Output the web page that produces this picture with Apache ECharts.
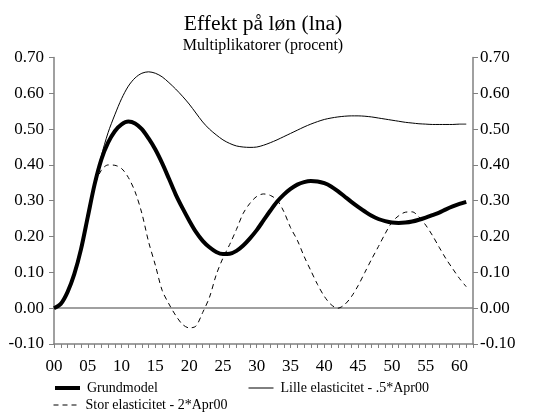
<!DOCTYPE html>
<html>
<head>
<meta charset="utf-8">
<script src="https://cdn.jsdelivr.net/npm/echarts@6/dist/echarts.min.js"></script>
<style>
html,body{margin:0;padding:0;background:#fff;}
#c{width:546px;height:415px;}
</style>
</head>
<body>
<div id="c"></div>
<script>
const years = [];
for (let i = 0; i <= 61; i++) years.push(i);

const grundmodel = [0,0.012,0.045,0.095,0.165,0.255,0.345,0.415,0.462,0.494,0.513,0.521,0.516,0.5,0.474,0.443,0.405,0.362,0.318,0.28,0.245,0.213,0.188,0.17,0.157,0.151,0.152,0.16,0.175,0.195,0.218,0.245,0.272,0.297,0.317,0.333,0.345,0.352,0.355,0.354,0.349,0.34,0.327,0.312,0.297,0.283,0.27,0.258,0.249,0.243,0.239,0.238,0.239,0.242,0.247,0.253,0.26,0.267,0.276,0.284,0.291,0.297];

const lille = [0,0.012,0.045,0.095,0.165,0.255,0.345,0.425,0.49,0.54,0.585,0.62,0.643,0.656,0.66,0.656,0.646,0.63,0.612,0.592,0.57,0.545,0.52,0.5,0.484,0.47,0.46,0.453,0.45,0.449,0.45,0.455,0.462,0.47,0.479,0.488,0.497,0.506,0.514,0.521,0.527,0.531,0.534,0.536,0.537,0.537,0.536,0.534,0.531,0.528,0.525,0.522,0.519,0.517,0.515,0.514,0.513,0.513,0.513,0.513,0.514,0.514];

const stor = [0,0.012,0.045,0.095,0.165,0.25,0.34,0.385,0.4,0.399,0.39,0.365,0.325,0.265,0.185,0.12,0.05,0.012,-0.02,-0.045,-0.055,-0.05,-0.012,0.03,0.093,0.14,0.178,0.22,0.265,0.293,0.312,0.319,0.315,0.302,0.27,0.225,0.19,0.145,0.105,0.066,0.033,0.01,0,0.01,0.032,0.063,0.1,0.137,0.172,0.208,0.24,0.258,0.268,0.269,0.255,0.232,0.203,0.17,0.138,0.11,0.083,0.06];

const seriesNames = ['Grundmodel', 'Lille elasticitet - .5*Apr00', 'Stor elasticitet - 2*Apr00'];
const titleText = 'Effekt på løn (lna)';
const subtitleText = 'Multiplikatorer (procent)';

function pairs(arr){ return arr.map((v,i)=>[years[i], v]); }

const FONT = '"Liberation Serif", "Times New Roman", serif';
const GRAY = '#808080';

const yAxisBase = {
  type: 'value', min: -0.1, max: 0.7, interval: 0.1,
  axisLine: {show: true, lineStyle: {color: GRAY, width: 1.5}},
  axisTick: {show: true, length: 5, lineStyle: {color: GRAY, width: 1}},
  splitLine: {show: false},
  axisLabel: {color: '#000', fontFamily: FONT, fontSize: 17, formatter: v => v.toFixed(2)}
};

function legendFor(name, left, top, lineStyle) {
  return {
    data: [name], left: left, top: top, padding: 0,
    itemWidth: 25, itemHeight: 14,
    itemStyle: {opacity: 0, color: 'rgba(0,0,0,0)', borderWidth: 0},
    lineStyle: Object.assign({color: '#000', cap: 'butt'}, lineStyle),
    textStyle: {fontFamily: FONT, fontSize: 14, color: '#000', padding: [0,0,0,2]}
  };
}

const chart = echarts.init(document.getElementById('c'), null, {renderer: 'canvas'});
chart.setOption({
  animation: false,
  backgroundColor: '#fff',
  title: [
    {text: titleText, left: 263, top: 13, textAlign: 'center', padding: 0,
     textStyle: {fontFamily: FONT, fontSize: 21.6, fontWeight: 'normal', color: '#000'}},
    {text: subtitleText, left: 263, top: 38, textAlign: 'center', padding: 0,
     textStyle: {fontFamily: FONT, fontSize: 16, fontWeight: 'normal', color: '#000'}}
  ],
  grid: {left: 54, right: 73, top: 57.5, bottom: 71, containLabel: false},
  legend: [
    legendFor(seriesNames[0], 53, 381, {width: 4, type: 'solid'}),
    legendFor(seriesNames[1], 248, 381, {width: 1, type: 'solid'}),
    legendFor(seriesNames[2], 53, 398, {width: 1, type: [5, 4]})
  ],
  xAxis: {
    type: 'value', min: 0, max: 62, interval: 5,
    axisLine: {onZero: false, lineStyle: {color: GRAY, width: 1.5}},
    axisTick: {show: true, length: 4, lineStyle: {color: GRAY}},
    minorTick: {show: true, splitNumber: 5, length: 4, lineStyle: {color: GRAY}},
    splitLine: {show: false},
    axisLabel: {color: '#000', fontFamily: FONT, fontSize: 17, margin: 14, showMaxLabel: false,
      formatter: v => (v > 61 ? '' : String(v).padStart(2, '0'))}
  },
  yAxis: [
    Object.assign({}, yAxisBase, {position: 'left', axisLabel: Object.assign({}, yAxisBase.axisLabel, {margin: 10})}),
    Object.assign({}, yAxisBase, {position: 'right', axisLabel: Object.assign({}, yAxisBase.axisLabel, {margin: 7})})
  ],
  series: [
    {name: seriesNames[0], type: 'line', data: pairs(grundmodel), showSymbol: false, symbol: 'none', smooth: 0.3,
     lineStyle: {color: '#000', width: 4}, itemStyle: {color: '#000'}, z: 5,
     markLine: {silent: true, symbol: 'none', label: {show: false},
       lineStyle: {color: GRAY, width: 1.5, type: 'solid'}, data: [{yAxis: 0}], z: 1}},
    {name: seriesNames[1], type: 'line', data: pairs(lille), showSymbol: false, symbol: 'none', smooth: 0.3,
     lineStyle: {color: '#000', width: 1}, itemStyle: {color: '#000'}, z: 4},
    {name: seriesNames[2], type: 'line', data: pairs(stor), showSymbol: false, symbol: 'none', smooth: 0.3,
     lineStyle: {color: '#000', width: 1, type: [5, 4]}, itemStyle: {color: '#000'}, z: 3}
  ]
});
</script>
</body>
</html>
